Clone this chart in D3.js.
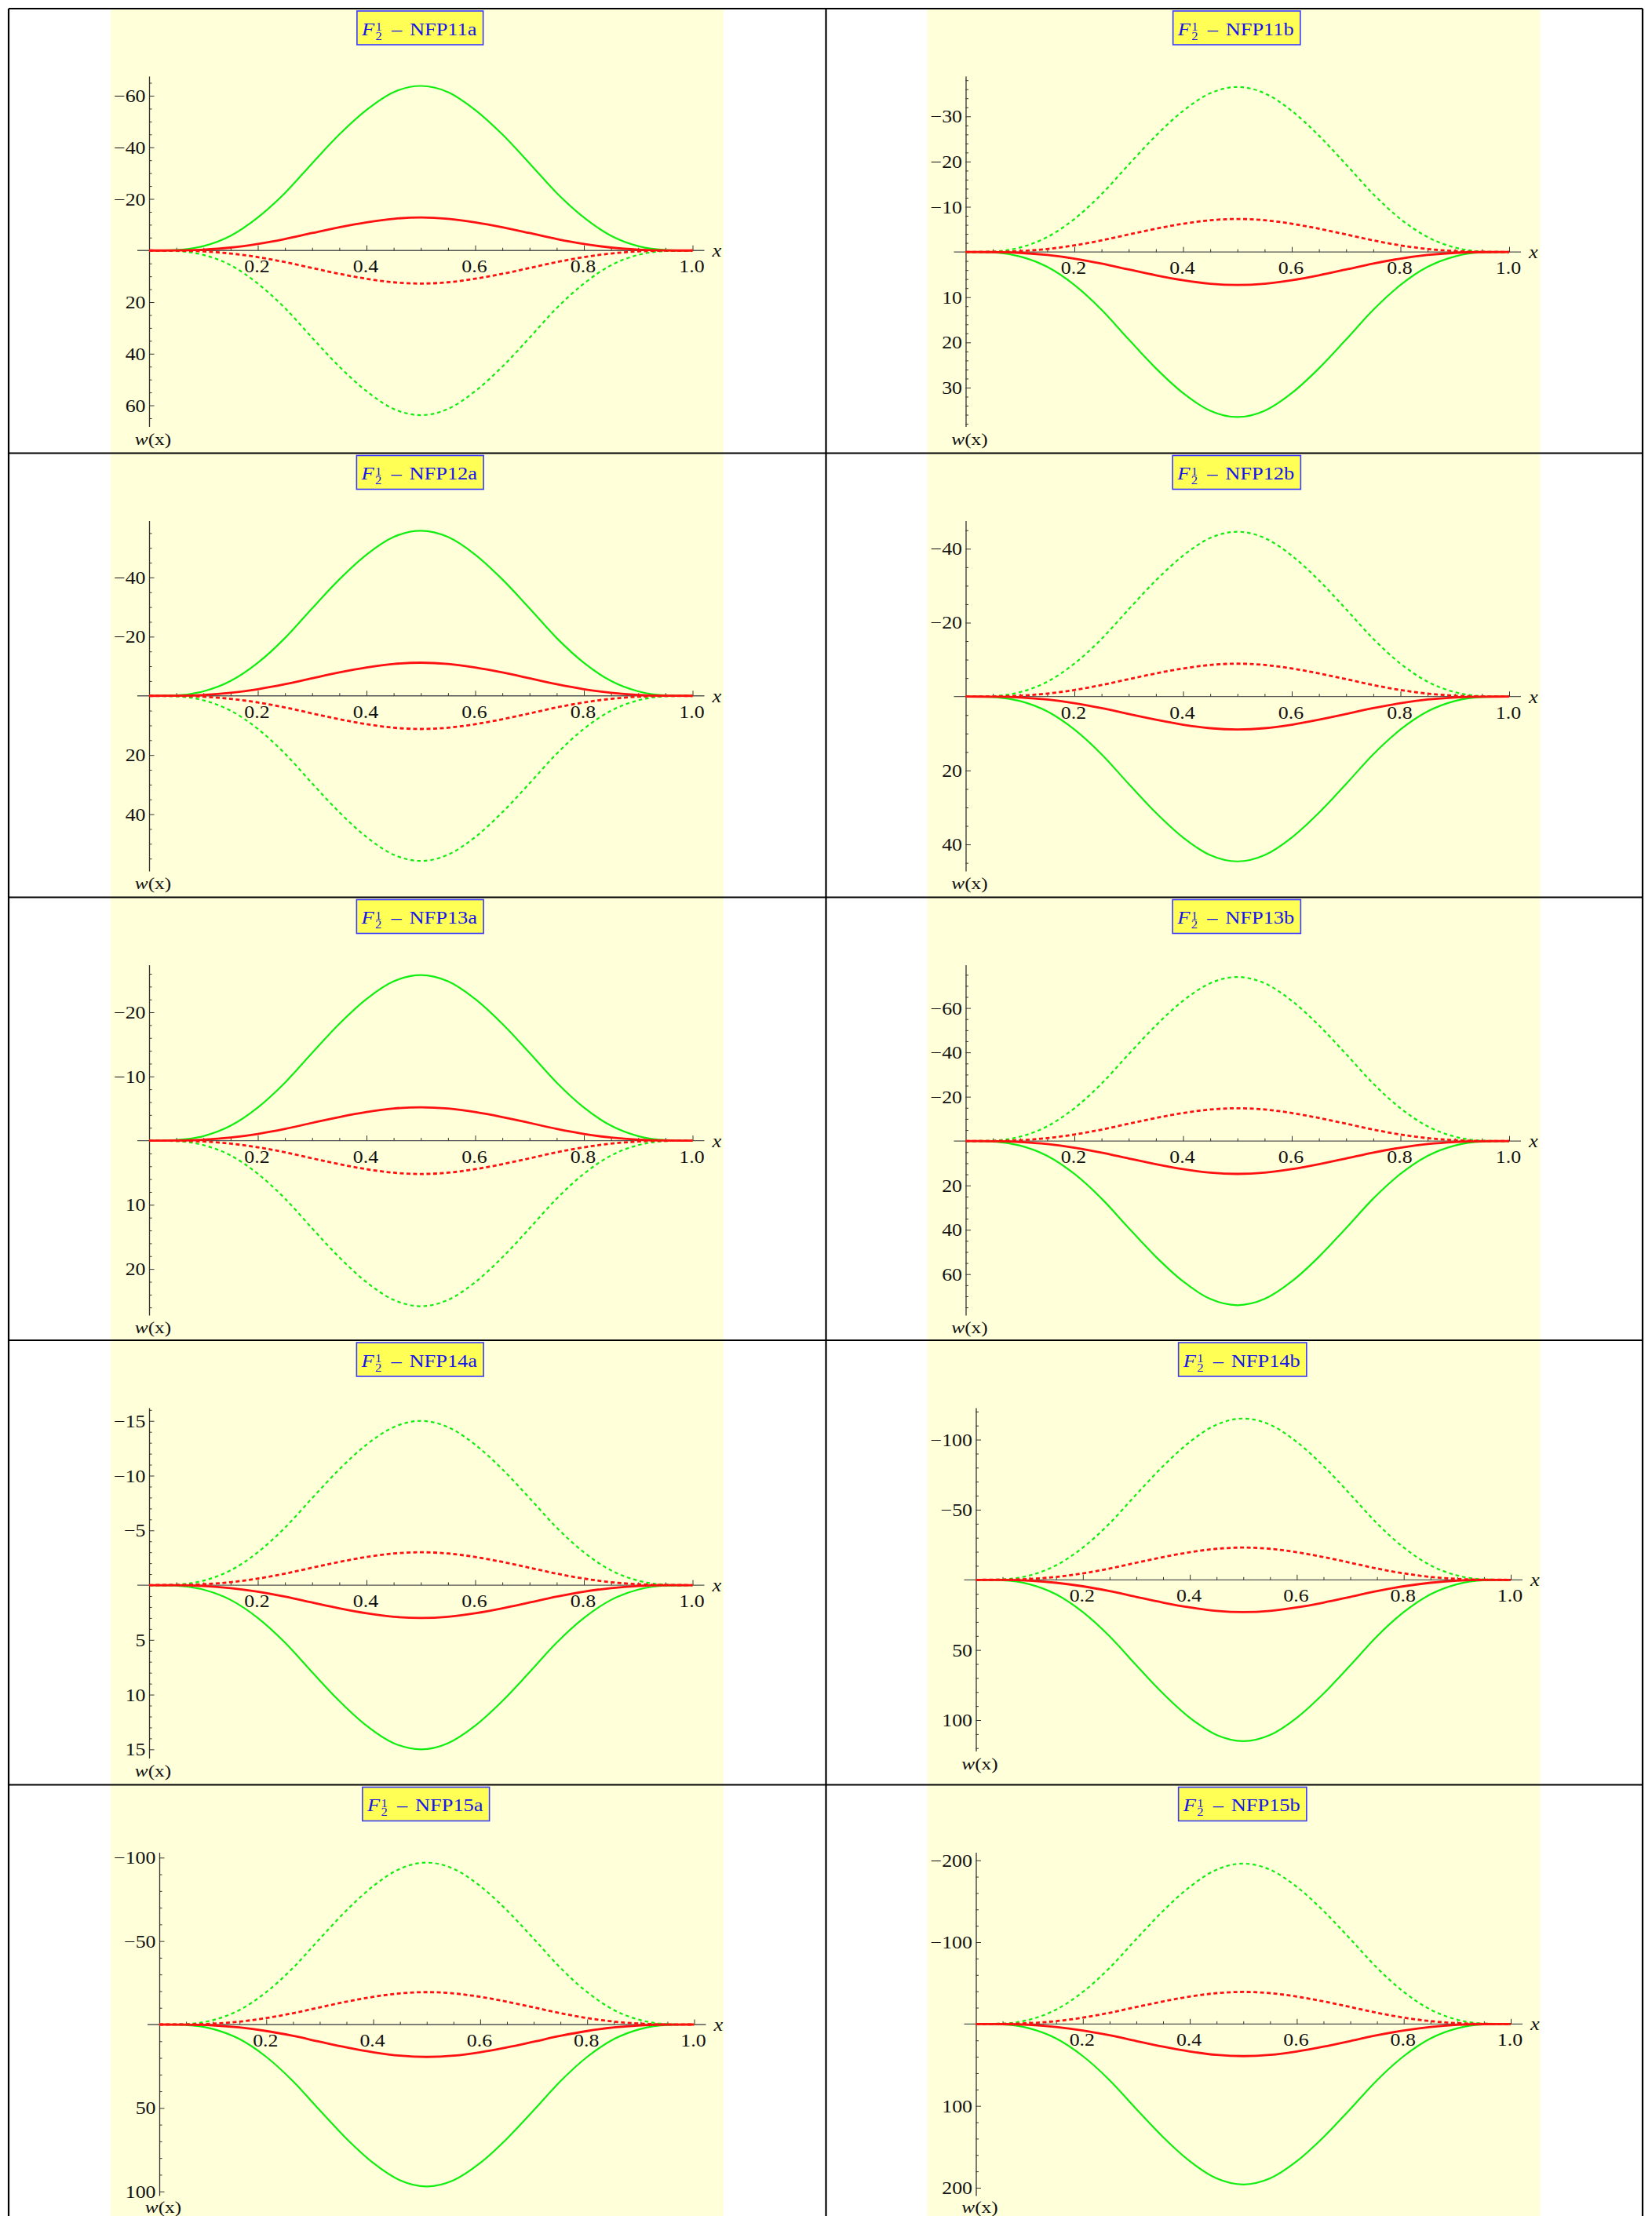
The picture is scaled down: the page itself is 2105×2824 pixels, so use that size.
<!DOCTYPE html>
<html><head><meta charset="utf-8">
<script src="https://cdn.jsdelivr.net/npm/d3@7"></script>
<style>
body{margin:0;background:#fff}
svg text{font-family:"Liberation Serif","Times New Roman",Times,serif}
</style>
</head><body>
<svg id="c" width="2105" height="2824"></svg>
<script>
// ---------------- DATA ----------------
const xs = [0,0.05,0.1,0.15,0.2,0.25,0.3,0.35,0.4,0.45,0.5,0.55,0.6,0.65,0.7,0.75,0.8,0.85,0.9,0.95,1.0];
const panelNames = ["NFP11a","NFP11b","NFP12a","NFP12b","NFP13a","NFP13b","NFP14a","NFP14b","NFP15a","NFP15b"];
const xMajorTicks = [0.2,0.4,0.6,0.8,1.0];

// NFP11a
const nfp11a_greenSolid  = [0,-0.2,-1.7,-5.7,-12.8,-22.3,-33.8,-45.0,-54.5,-61.4,-63.8,-61.4,-54.5,-45.0,-33.8,-22.3,-12.8,-5.7,-1.7,-0.2,0];
const nfp11a_greenDotted = [0,0.2,1.7,5.7,12.8,22.3,33.8,45.0,54.5,61.4,63.8,61.4,54.5,45.0,33.8,22.3,12.8,5.7,1.7,0.2,0];
const nfp11a_redSolid    = [0,-0.04,-0.35,-1.15,-2.56,-4.48,-6.78,-9.02,-10.94,-12.31,-12.8,-12.31,-10.94,-9.02,-6.78,-4.48,-2.56,-1.15,-0.35,-0.04,0];
const nfp11a_redDotted   = [0,0.04,0.35,1.15,2.56,4.48,6.78,9.02,10.94,12.31,12.8,12.31,10.94,9.02,6.78,4.48,2.56,1.15,0.35,0.04,0];
// NFP11b
const nfp11b_greenSolid  = [0,0.11,0.99,3.29,7.3,12.78,19.35,25.73,31.21,35.11,36.5,35.11,31.21,25.73,19.35,12.78,7.3,3.29,0.99,0.11,0];
const nfp11b_greenDotted = [0,-0.11,-0.99,-3.29,-7.3,-12.78,-19.35,-25.73,-31.21,-35.11,-36.5,-35.11,-31.21,-25.73,-19.35,-12.78,-7.3,-3.29,-0.99,-0.11,0];
const nfp11b_redSolid    = [0,0.02,0.2,0.66,1.46,2.56,3.87,5.15,6.24,7.02,7.3,7.02,6.24,5.15,3.87,2.56,1.46,0.66,0.2,0.02,0];
const nfp11b_redDotted   = [0,-0.02,-0.2,-0.66,-1.46,-2.56,-3.87,-5.15,-6.24,-7.02,-7.3,-7.02,-6.24,-5.15,-3.87,-2.56,-1.46,-0.66,-0.2,-0.02,0];
// NFP12a
const nfp12a_greenSolid  = [0,-0.17,-1.51,-5.02,-11.16,-19.53,-29.57,-39.34,-47.71,-53.68,-55.8,-53.68,-47.71,-39.34,-29.57,-19.53,-11.16,-5.02,-1.51,-0.17,0];
const nfp12a_greenDotted = [0,0.17,1.51,5.02,11.16,19.53,29.57,39.34,47.71,53.68,55.8,53.68,47.71,39.34,29.57,19.53,11.16,5.02,1.51,0.17,0];
const nfp12a_redSolid    = [0,-0.03,-0.3,-1.01,-2.24,-3.92,-5.94,-7.9,-9.58,-10.77,-11.2,-10.77,-9.58,-7.9,-5.94,-3.92,-2.24,-1.01,-0.3,-0.03,0];
const nfp12a_redDotted   = [0,0.03,0.3,1.01,2.24,3.92,5.94,7.9,9.58,10.77,11.2,10.77,9.58,7.9,5.94,3.92,2.24,1.01,0.3,0.03,0];
// NFP12b
const nfp12b_greenSolid  = [0,0.13,1.2,4.01,8.92,15.61,23.64,31.44,38.13,42.91,44.6,42.91,38.13,31.44,23.64,15.61,8.92,4.01,1.2,0.13,0];
const nfp12b_greenDotted = [0,-0.13,-1.2,-4.01,-8.92,-15.61,-23.64,-31.44,-38.13,-42.91,-44.6,-42.91,-38.13,-31.44,-23.64,-15.61,-8.92,-4.01,-1.2,-0.13,0];
const nfp12b_redSolid    = [0,0.03,0.24,0.8,1.78,3.12,4.72,6.27,7.61,8.56,8.9,8.56,7.61,6.27,4.72,3.12,1.78,0.8,0.24,0.03,0];
const nfp12b_redDotted   = [0,-0.03,-0.24,-0.8,-1.78,-3.12,-4.72,-6.27,-7.61,-8.56,-8.9,-8.56,-7.61,-6.27,-4.72,-3.12,-1.78,-0.8,-0.24,-0.03,0];
// NFP13a
const nfp13a_greenSolid  = [0,-0.08,-0.7,-2.32,-5.16,-9.03,-13.67,-18.19,-22.06,-24.82,-25.8,-24.82,-22.06,-18.19,-13.67,-9.03,-5.16,-2.32,-0.7,-0.08,0];
const nfp13a_greenDotted = [0,0.08,0.7,2.32,5.16,9.03,13.67,18.19,22.06,24.82,25.8,24.82,22.06,18.19,13.67,9.03,5.16,2.32,0.7,0.08,0];
const nfp13a_redSolid    = [0,-0.02,-0.14,-0.47,-1.04,-1.82,-2.76,-3.67,-4.45,-5.0,-5.2,-5.0,-4.45,-3.67,-2.76,-1.82,-1.04,-0.47,-0.14,-0.02,0];
const nfp13a_redDotted   = [0,0.02,0.14,0.47,1.04,1.82,2.76,3.67,4.45,5.0,5.2,5.0,4.45,3.67,2.76,1.82,1.04,0.47,0.14,0.02,0];
// NFP13b
const nfp13b_greenSolid  = [0,0.22,2.0,6.66,14.8,25.9,39.22,52.17,63.27,71.19,74,71.19,63.27,52.17,39.22,25.9,14.8,6.66,2.0,0.22,0];
const nfp13b_greenDotted = [0,-0.22,-2.0,-6.66,-14.8,-25.9,-39.22,-52.17,-63.27,-71.19,-74,-71.19,-63.27,-52.17,-39.22,-25.9,-14.8,-6.66,-2.0,-0.22,0];
const nfp13b_redSolid    = [0,0.04,0.4,1.33,2.96,5.18,7.84,10.43,12.65,14.24,14.8,14.24,12.65,10.43,7.84,5.18,2.96,1.33,0.4,0.04,0];
const nfp13b_redDotted   = [0,-0.04,-0.4,-1.33,-2.96,-5.18,-7.84,-10.43,-12.65,-14.24,-14.8,-14.24,-12.65,-10.43,-7.84,-5.18,-2.96,-1.33,-0.4,-0.04,0];
// NFP14a
const nfp14a_greenSolid  = [0,0.05,0.41,1.35,3.0,5.25,7.95,10.58,12.83,14.43,15,14.43,12.83,10.58,7.95,5.25,3.0,1.35,0.41,0.05,0];
const nfp14a_greenDotted = [0,-0.05,-0.41,-1.35,-3.0,-5.25,-7.95,-10.58,-12.83,-14.43,-15,-14.43,-12.83,-10.58,-7.95,-5.25,-3.0,-1.35,-0.41,-0.05,0];
const nfp14a_redSolid    = [0,0.01,0.08,0.27,0.6,1.05,1.59,2.12,2.57,2.89,3,2.89,2.57,2.12,1.59,1.05,0.6,0.27,0.08,0.01,0];
const nfp14a_redDotted   = [0,-0.01,-0.08,-0.27,-0.6,-1.05,-1.59,-2.12,-2.57,-2.89,-3,-2.89,-2.57,-2.12,-1.59,-1.05,-0.6,-0.27,-0.08,-0.01,0];
// NFP14b
const nfp14b_greenSolid  = [0,0.35,3.11,10.35,23,40.25,60.95,81.08,98.33,110.63,115,110.63,98.33,81.08,60.95,40.25,23,10.35,3.11,0.35,0];
const nfp14b_greenDotted = [0,-0.35,-3.11,-10.35,-23,-40.25,-60.95,-81.08,-98.33,-110.63,-115,-110.63,-98.33,-81.08,-60.95,-40.25,-23,-10.35,-3.11,-0.35,0];
const nfp14b_redSolid    = [0,0.07,0.62,2.07,4.6,8.05,12.19,16.22,19.67,22.13,23,22.13,19.67,16.22,12.19,8.05,4.6,2.07,0.62,0.07,0];
const nfp14b_redDotted   = [0,-0.07,-0.62,-2.07,-4.6,-8.05,-12.19,-16.22,-19.67,-22.13,-23,-22.13,-19.67,-16.22,-12.19,-8.05,-4.6,-2.07,-0.62,-0.07,0];
// NFP15a
const nfp15a_greenSolid  = [0,0.29,2.62,8.73,19.4,33.95,51.41,68.39,82.94,93.31,97,93.31,82.94,68.39,51.41,33.95,19.4,8.73,2.62,0.29,0];
const nfp15a_greenDotted = [0,-0.29,-2.62,-8.73,-19.4,-33.95,-51.41,-68.39,-82.94,-93.31,-97,-93.31,-82.94,-68.39,-51.41,-33.95,-19.4,-8.73,-2.62,-0.29,0];
const nfp15a_redSolid    = [0,0.06,0.52,1.75,3.88,6.79,10.28,13.68,16.59,18.66,19.4,18.66,16.59,13.68,10.28,6.79,3.88,1.75,0.52,0.06,0];
const nfp15a_redDotted   = [0,-0.06,-0.52,-1.75,-3.88,-6.79,-10.28,-13.68,-16.59,-18.66,-19.4,-18.66,-16.59,-13.68,-10.28,-6.79,-3.88,-1.75,-0.52,-0.06,0];
// NFP15b
const nfp15b_greenSolid  = [0,0.59,5.29,17.64,39.2,68.6,103.88,138.18,167.58,188.55,196,188.55,167.58,138.18,103.88,68.6,39.2,17.64,5.29,0.59,0];
const nfp15b_greenDotted = [0,-0.59,-5.29,-17.64,-39.2,-68.6,-103.88,-138.18,-167.58,-188.55,-196,-188.55,-167.58,-138.18,-103.88,-68.6,-39.2,-17.64,-5.29,-0.59,0];
const nfp15b_redSolid    = [0,0.12,1.06,3.53,7.84,13.72,20.78,27.64,33.52,37.71,39.2,37.71,33.52,27.64,20.78,13.72,7.84,3.53,1.06,0.12,0];
const nfp15b_redDotted   = [0,-0.12,-1.06,-3.53,-7.84,-13.72,-20.78,-27.64,-33.52,-37.71,-39.2,-37.71,-33.52,-27.64,-20.78,-13.72,-7.84,-3.53,-1.06,-0.12,0];

// axis ranges (top value, bottom value) and ticks per panel
const yDomains = [[-67.6,68.2],[-38.9,38.6],[-59.2,59.2],[-47.6,47.2],[-27.4,27.2],[-79.5,78.5],[-16.2,15.8],[-122.7,122.1],[-103.2,102.5],[-209.8,209.6]];
const yMajorTicks = [
  [-60,-40,-20,20,40,60],[-30,-20,-10,10,20,30],
  [-40,-20,20,40],[-40,-20,20,40],
  [-20,-10,10,20],[-60,-40,-20,20,40,60],
  [-15,-10,-5,5,10,15],[-100,-50,50,100],
  [-100,-50,50,100],[-200,-100,100,200]
];
const yMinorSteps = [5,2,5,5,2,5,1,10,10,20];

const seriesByPanel = [
  [nfp11a_greenDotted,nfp11a_greenSolid,nfp11a_redDotted,nfp11a_redSolid],
  [nfp11b_greenDotted,nfp11b_greenSolid,nfp11b_redDotted,nfp11b_redSolid],
  [nfp12a_greenDotted,nfp12a_greenSolid,nfp12a_redDotted,nfp12a_redSolid],
  [nfp12b_greenDotted,nfp12b_greenSolid,nfp12b_redDotted,nfp12b_redSolid],
  [nfp13a_greenDotted,nfp13a_greenSolid,nfp13a_redDotted,nfp13a_redSolid],
  [nfp13b_greenDotted,nfp13b_greenSolid,nfp13b_redDotted,nfp13b_redSolid],
  [nfp14a_greenDotted,nfp14a_greenSolid,nfp14a_redDotted,nfp14a_redSolid],
  [nfp14b_greenDotted,nfp14b_greenSolid,nfp14b_redDotted,nfp14b_redSolid],
  [nfp15a_greenDotted,nfp15a_greenSolid,nfp15a_redDotted,nfp15a_redSolid],
  [nfp15b_greenDotted,nfp15b_greenSolid,nfp15b_redDotted,nfp15b_redSolid]
];

// ---------------- STYLE / LAYOUT ----------------
const seriesStyles = [
  {color:"#10ee10", width:2.2, dash:"4.5,4"},
  {color:"#10ee10", width:2.2, dash:null},
  {color:"#ff1010", width:2.8, dash:"5,3.5"},
  {color:"#ff1010", width:2.8, dash:null}
];
const W = 2105, H = 2824;
const rowTops = [11, 577.5, 1143.5, 1708, 2274.5];
const colYellowLeft = [141, 1181.5];
const yellowW = 781;
const tableLeft = 11, tableRight = 2093, colDivider = 1052.5;
const SX = 1.15; // horizontal text stretch of the embedded images
const fmtY = d3.format("d"), fmtX = d3.format(".1f");

const svg = d3.select("#c");

// yellow plot backgrounds
colYellowLeft.forEach(l => {
  svg.append("rect").attr("x", l).attr("y", 12).attr("width", yellowW).attr("height", H - 12).attr("fill", "#ffffd9");
});

// table grid
const grid = svg.append("g").attr("stroke", "#000").attr("stroke-width", 2.2);
rowTops.forEach(t => grid.append("line").attr("x1", tableLeft).attr("x2", tableRight).attr("y1", t).attr("y2", t));
[tableLeft, colDivider, tableRight].forEach(x => grid.append("line").attr("x1", x).attr("x2", x).attr("y1", rowTops[0]).attr("y2", H));

function stretchText(sel) {
  sel.each(function() {
    const t = d3.select(this);
    const x = +t.attr("x") || 0;
    const y = +t.attr("y") || 0;
    t.attr("x", 0).attr("y", 0).attr("transform", `translate(${x},${y}) scale(${SX},1)`);
  });
}

panelNames.forEach((name, i) => {
  const r = Math.floor(i / 2), c = i % 2;
  const RT = rowTops[r], YL = colYellowLeft[c];
  const wide = d3.max(yMajorTicks[i], v => fmtY(v).length) >= 4;
  const x0 = YL + (wide ? 62 : 49), x1 = YL + (wide ? 743.5 : 741.5);
  const yTop = RT + 86, yBot = RT + (wide ? 523.5 : 532.5);

  const xS = d3.scaleLinear().domain([0, 1]).range([x0, x1]);
  const yS = d3.scaleLinear().domain(yDomains[i]).range([yTop, yBot]);
  const y0 = yS(0);
  const g = svg.append("g");

  // x axis line
  g.append("line").attr("x1", x0 - 15).attr("x2", x1 + 15).attr("y1", y0).attr("y2", y0)
    .attr("stroke", "#555").attr("stroke-width", 1.3);

  // x minor ticks
  const xMinor = d3.range(1, 20).map(k => k * 0.05).filter(v => Math.abs(v * 5 - Math.round(v * 5)) > 1e-6);
  g.append("g").attr("transform", `translate(0,${y0})`)
    .call(d3.axisBottom(xS).tickValues(xMinor).tickSize(-3.5).tickSizeOuter(0).tickFormat(""))
    .call(a => a.select(".domain").remove())
    .attr("color", "#333");
  // x major ticks
  const xa = g.append("g").attr("transform", `translate(0,${y0})`)
    .call(d3.axisBottom(xS).tickValues(xMajorTicks).tickSize(-6.5).tickSizeOuter(0).tickPadding(12).tickFormat(fmtX))
    .call(a => a.select(".domain").remove())
    .attr("color", "#333").attr("font-size", 22.5).attr("font-family", "Liberation Serif");
  xa.selectAll("text").attr("fill", "#111");
  xa.selectAll("text").each(function(){ const t=d3.select(this); t.attr("transform", `translate(-1.5,0) scale(${SX},1)`).attr("x",0); });

  // y minor ticks
  const st = yMinorSteps[i];
  const yMinor = d3.range(Math.ceil(yDomains[i][0] / st) * st, yDomains[i][1] + 1e-9, st)
    .filter(v => v !== 0 && !yMajorTicks[i].includes(v));
  g.append("g").attr("transform", `translate(${x0},0)`)
    .call(d3.axisLeft(yS).tickValues(yMinor).tickSize(-3.5).tickSizeOuter(0).tickFormat(""))
    .call(a => a.select(".domain").remove())
    .attr("color", "#333");
  // y major ticks + axis line
  const ya = g.append("g").attr("transform", `translate(${x0},0)`)
    .call(d3.axisLeft(yS).tickValues(yMajorTicks[i]).tickSize(-6.5).tickSizeOuter(0).tickPadding(4.5).tickFormat(fmtY))
    .attr("color", "#333").attr("font-size", 22.5).attr("font-family", "Liberation Serif");
  ya.select(".domain").attr("stroke-width", 1.3);
  ya.selectAll("text").attr("fill", "#111").attr("dy", null);
  ya.selectAll("text").each(function(){ const t=d3.select(this); t.attr("transform", `translate(-4.5,7.5) scale(${SX},1)`).attr("x",0).attr("y",0); });

  // curves
  const line = d3.line().x((d, k) => xS(xs[k])).y(d => yS(d)).curve(d3.curveMonotoneX);
  seriesByPanel[i].forEach((vals, s) => {
    const stl = seriesStyles[s];
    g.append("path").datum(vals).attr("d", line)
      .attr("fill", "none").attr("stroke", stl.color).attr("stroke-width", stl.width)
      .attr("stroke-linecap", "butt").attr("stroke-linejoin", "round")
      .attr("stroke-dasharray", stl.dash);
  });

  // axis labels
  g.append("text").attr("x", x1 + 25).attr("y", y0 + 8).attr("font-size", 23).attr("font-style", "italic").attr("fill", "#111").text("x")
    .call(stretchText);
  const wl = g.append("text").attr("x", x0 + 5).attr("y", Math.min(yBot + 23, H - 4.5)).attr("font-size", 22).attr("fill", "#111").attr("text-anchor", "middle");
  wl.append("tspan").attr("font-style", "italic").text("w");
  wl.append("tspan").text("(x)");
  wl.call(stretchText);

  // title box
  const cx = (x0 + x1) / 2 - 1, bt = RT + 3;
  const tg = g.append("g");
  const box = tg.append("rect").attr("y", bt).attr("height", 43)
    .attr("fill", "#ffff55").attr("stroke", "#3a3aff").attr("stroke-width", 1.6);
  const blue = "#1515ee";
  const tF = tg.append("text").attr("x", 6).attr("y", bt + 30.5).attr("font-size", 23).attr("font-style", "italic").attr("fill", blue).text("F");
  const tSup = tg.append("text").attr("x", 23.5).attr("y", bt + 25).attr("font-size", 14.5).attr("fill", blue).text("1");
  const tSub = tg.append("text").attr("x", 23.5).attr("y", bt + 36.5).attr("font-size", 14.5).attr("fill", blue).text("2");
  const tDash = tg.append("text").attr("x", 44).attr("y", bt + 30.5).attr("font-size", 23).attr("fill", blue).text("\u2013");
  const tName = tg.append("text").attr("x", 67).attr("y", bt + 30.5).attr("font-size", 23).attr("fill", blue).text(name);
  const nameW = tName.node().getComputedTextLength() * SX;
  const boxW = 67 + nameW + 8;
  const bl = cx - boxW / 2;
  box.attr("x", bl).attr("width", boxW);
  [tF, tSup, tSub, tDash, tName].forEach(t => t.attr("x", bl + (+t.attr("x"))).call(stretchText));
});
</script>
</body></html>
